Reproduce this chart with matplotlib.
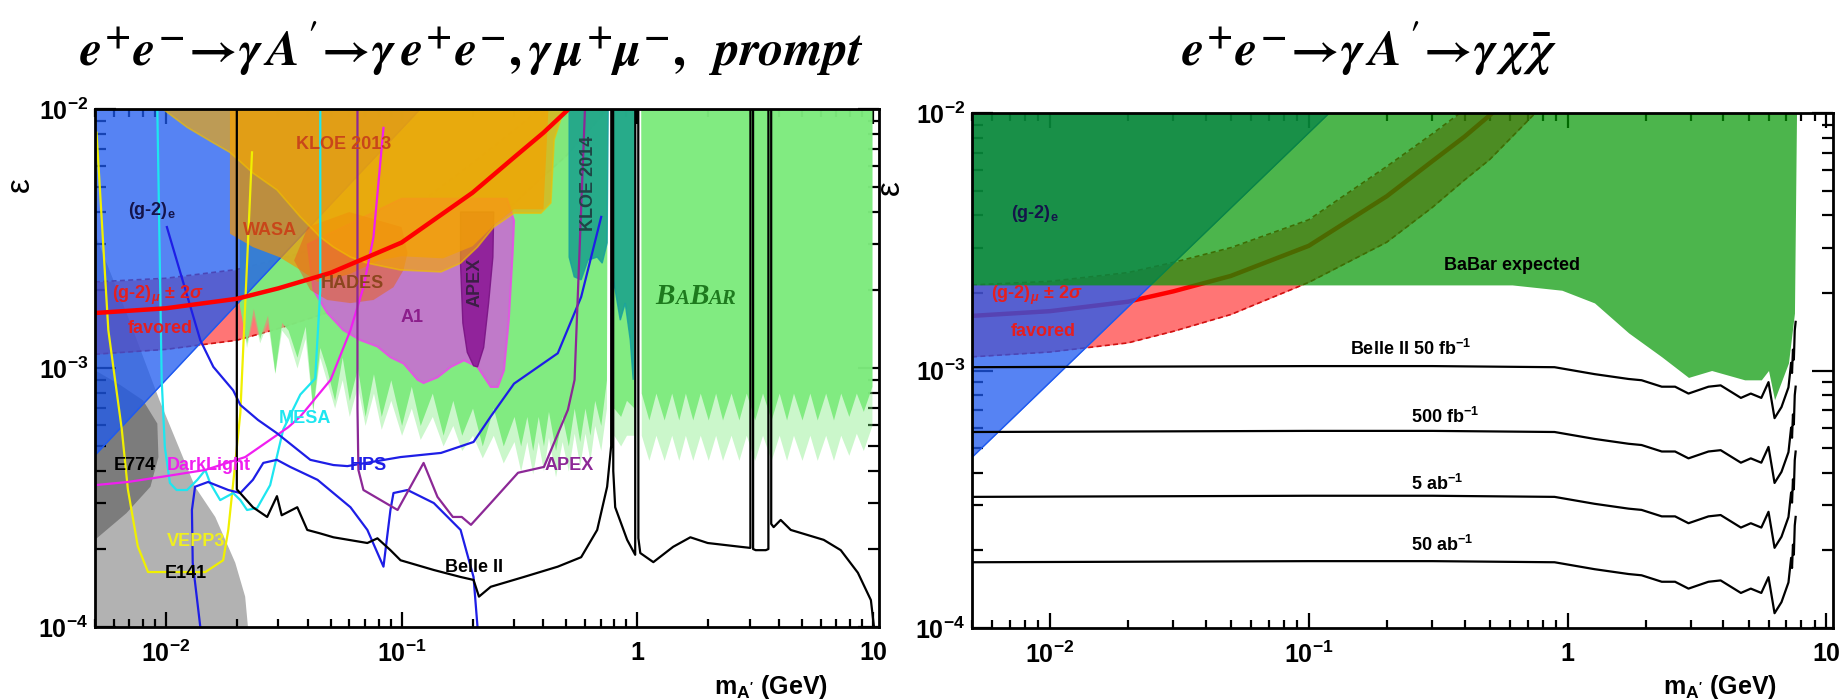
import numpy as np
import matplotlib
matplotlib.use("Agg")
import matplotlib.pyplot as plt
from matplotlib.ticker import LogLocator, NullFormatter
from matplotlib.offsetbox import TextArea, HPacker, AnnotationBbox

plt.rcParams['font.family'] = ['Liberation Sans', 'DejaVu Sans']
plt.rcParams['font.weight'] = 'bold'
plt.rcParams['mathtext.fontset'] = 'custom'
plt.rcParams['mathtext.rm'] = 'Liberation Sans:bold'
plt.rcParams['mathtext.bf'] = 'Liberation Sans:bold'
plt.rcParams['mathtext.it'] = 'Liberation Sans:bold:italic'

# ---------------- data: (m_A' [GeV], epsilon) ----------------
# (g-2)_mu favoured band
gm2_m = [0.005, 0.01, 0.02, 0.03, 0.05, 0.1, 0.2, 0.3, 0.4, 0.5, 0.75, 1.0]
gm2_c = [1.63e-3, 1.70e-3, 1.85e-3, 2.03e-3, 2.33e-3, 3.05e-3, 4.75e-3, 6.5e-3, 8.1e-3, 9.8e-3, 1.4e-2, 1.8e-2]
gm2_hi = [2.15e-3, 2.22e-3, 2.40e-3, 2.63e-3, 3.0e-3, 3.85e-3, 6.2e-3, 8.3e-3, 1.03e-2, 1.25e-2, 1.8e-2, 2.3e-2]
gm2_lo = [1.13e-3, 1.18e-3, 1.28e-3, 1.42e-3, 1.65e-3, 2.2e-3, 3.15e-3, 4.3e-3, 5.5e-3, 6.6e-3, 1.0e-2, 1.3e-2]

# (g-2)_e excluded edge
gm2e_m = [0.005, 0.12]
gm2e_eps = [4.6e-4, 1.0e-2]

# beam dumps
e141_pts = [(0.005, 1e-4), (0.005, 3.3e-3), (0.007, 1.53e-3), (0.0094, 7.5e-4), (0.0133, 3.48e-4),
            (0.0162, 2.66e-4), (0.0197, 1.77e-4), (0.0217, 1.31e-4), (0.0223, 1e-4)]
e774_pts = [(0.005, 2.17e-4), (0.0068, 2.75e-4), (0.0086, 3.48e-4), (0.0093, 4.53e-4), (0.0092, 6.1e-4),
            (0.008, 7.5e-4), (0.0064, 8.6e-4), (0.005, 9.8e-4)]

# BaBar (left): lower edge, solid core and faded fringe
babar_m = [0.0205, 0.022, 0.0235, 0.025, 0.027, 0.029, 0.031, 0.033, 0.036, 0.039, 0.042, 0.045, 0.048,
           0.052, 0.056, 0.06, 0.065, 0.07, 0.076, 0.082, 0.09, 0.1, 0.11, 0.12, 0.135, 0.15, 0.165, 0.18,
           0.2, 0.22, 0.245, 0.27,
           0.3, 0.32, 0.34, 0.36, 0.38, 0.4, 0.42, 0.45, 0.48, 0.51, 0.54, 0.57, 0.6, 0.63, 0.66, 0.7, 0.74,
           0.745, 0.79, 0.795, 0.85, 0.9, 0.97, 0.975, 1.035,
           1.04, 1.12, 1.2, 1.3, 1.4, 1.5, 1.6, 1.72, 1.85, 2.0, 2.15, 2.3, 2.5, 2.7, 2.9, 3.15, 3.4, 3.7,
           4.0, 4.3, 4.6, 5.0, 5.4, 5.8, 6.3, 6.8, 7.3, 7.9, 8.5, 9.1, 9.9]
babar_core = [1.75e-3, 1.25e-3, 1.7e-3, 1.3e-3, 1.6e-3, 9.6e-4, 1.5e-3, 1.4e-3, 1.1e-3, 1.45e-3, 6.9e-4,
              1.2e-3, 1.0e-3, 7.5e-4, 1.1e-3, 7.5e-4, 1.0e-3, 6.5e-4, 9.5e-4, 6.5e-4, 9e-4, 6.0e-4, 8.5e-4,
              6e-4, 8e-4, 5.5e-4, 7.5e-4, 5.5e-4, 7e-4, 5.0e-4, 7e-4, 5e-4,
              6.5e-4, 5e-4, 6.5e-4, 4.8e-4, 6.5e-4, 5e-4, 6.8e-4, 4.8e-4, 6.5e-4, 5e-4, 7e-4, 5.2e-4, 7e-4,
              5.5e-4, 7.5e-4, 6e-4, 9e-4,
              1e-2, 1e-2, 7e-4, 6.5e-4, 7.5e-4, 7e-4, 1e-2, 1e-2,
              8e-4, 6.3e-4, 8e-4, 6.3e-4, 8e-4, 6.3e-4, 8e-4, 6.3e-4, 8e-4, 6.3e-4, 8e-4, 6.3e-4, 8e-4, 6.3e-4,
              8e-4, 6.3e-4, 8e-4, 6.3e-4, 8e-4, 6.3e-4, 8e-4, 6.3e-4, 8e-4, 6.3e-4, 8e-4, 6.3e-4, 8e-4,
              6.5e-4, 8e-4, 6.8e-4, 8.5e-4]
babar_fade = [1.75e-3, 1.2e-3, 1.6e-3, 1.25e-3, 1.5e-3, 9.5e-4, 1.4e-3, 1.3e-3, 1.0e-3, 1.3e-3, 6.8e-4,
              1.1e-3, 9e-4, 7e-4, 9e-4, 6.5e-4, 8.5e-4, 6e-4, 8e-4, 5.8e-4, 7.5e-4, 5.5e-4, 7e-4, 5.3e-4,
              6.5e-4, 5e-4, 6e-4, 4.8e-4, 5.5e-4, 4.5e-4, 5.5e-4, 4.3e-4,
              5.2e-4, 4e-4, 5.2e-4, 3.9e-4, 5.2e-4, 4e-4, 5.4e-4, 3.8e-4, 5.2e-4, 4e-4, 5.6e-4, 4.2e-4, 5.6e-4,
              4.4e-4, 6e-4, 4.8e-4, 7e-4,
              1e-2, 1e-2, 5.5e-4, 5e-4, 5.5e-4, 5.5e-4, 1e-2, 1e-2,
              5.5e-4, 4.4e-4, 5.5e-4, 4.4e-4, 5.5e-4, 4.4e-4, 5.5e-4, 4.4e-4, 5.5e-4, 4.4e-4, 5.5e-4, 4.4e-4,
              5.5e-4, 4.4e-4, 5.5e-4, 4.4e-4, 5.5e-4, 4.4e-4, 5.5e-4, 4.4e-4, 5.5e-4, 4.4e-4, 5.5e-4, 4.4e-4,
              5.5e-4, 4.4e-4, 5.5e-4, 4.6e-4, 5.6e-4, 4.8e-4, 6e-4]

kloe13_pts = [(0.0097, 1e-2), (0.0123, 8.5e-3), (0.0159, 7.4e-3), (0.0187, 6.8e-3), (0.0234, 5.66e-3),
              (0.0296, 4.87e-3), (0.0372, 3.83e-3), (0.0452, 3.2e-3), (0.0514, 2.93e-3), (0.0607, 2.68e-3),
              (0.0716, 2.54e-3), (0.099, 2.39e-3), (0.147, 2.35e-3), (0.178, 2.54e-3), (0.21, 2.93e-3),
              (0.246, 3.5e-3), (0.30, 3.96e-3), (0.39, 3.96e-3), (0.43, 4.34e-3), (0.444, 7.6e-3), (0.489, 1e-2)]
wasa_pts = [(0.0187, 1e-2), (0.0187, 3.3e-3), (0.0234, 2.93e-3), (0.0303, 2.68e-3), (0.0372, 2.39e-3),
            (0.044, 2.15e-3), (0.06, 2.3e-3), (0.08, 2.6e-3), (0.1, 2.7e-3), (0.15, 2.65e-3), (0.2, 2.95e-3),
            (0.25, 3.6e-3), (0.3, 4.1e-3), (0.4, 4.1e-3), (0.42, 1e-2)]
hades_pts = [(0.035, 2.6e-3), (0.041, 2.0e-3), (0.0484, 1.83e-3), (0.0607, 1.78e-3), (0.076, 1.83e-3),
             (0.0924, 2.05e-3), (0.102, 2.39e-3), (0.106, 2.78e-3), (0.1, 3.5e-3), (0.06, 4e-3), (0.04, 3.5e-3)]
a1_pts = [(0.04, 3e-3), (0.0423, 2.0e-3), (0.0484, 1.63e-3), (0.0566, 1.40e-3), (0.067, 1.28e-3),
          (0.079, 1.21e-3), (0.0897, 1.10e-3), (0.102, 1.04e-3), (0.117, 9.0e-4), (0.124, 8.75e-4),
          (0.142, 9.2e-4), (0.162, 1.01e-3), (0.184, 1.07e-3), (0.21, 1.01e-3), (0.239, 8.45e-4),
          (0.256, 8.45e-4), (0.272, 9.8e-4), (0.285, 1.53e-3), (0.296, 2.78e-3), (0.30, 3.7e-3),
          (0.28, 4.5e-3), (0.1, 4.5e-3)]
apex_pts = [(0.178, 4e-3), (0.178, 2.5e-3), (0.182, 1.49e-3), (0.19, 1.15e-3), (0.202, 1.02e-3),
            (0.21, 1.01e-3), (0.223, 1.2e-3), (0.234, 1.78e-3), (0.244, 2.68e-3), (0.246, 4e-3)]
kloe14_pts = [(0.514, 1e-2), (0.514, 2.68e-3), (0.54, 2.25e-3), (0.578, 2.19e-3), (0.618, 2.61e-3),
              (0.676, 2.68e-3), (0.71, 2.54e-3), (0.745, 3.04e-3), (0.753, 1e-2), (0.79, 1e-2),
              (0.79, 2.2e-3), (0.806, 2.0e-3), (0.847, 1.53e-3), (0.889, 1.78e-3), (0.934, 1.28e-3),
              (0.961, 9e-4), (0.98, 1e-2)]

# future / projected lines (left)
vepp3_pts = [(0.00508, 8.1e-3), (0.0057, 1.4e-3), (0.0065, 5.8e-4), (0.0069, 3.4e-4), (0.0076, 2.05e-4),
             (0.0084, 1.63e-4), (0.0147, 1.63e-4), (0.0175, 1.81e-4), (0.0184, 2.37e-4), (0.0197, 4.3e-4),
             (0.0207, 6.7e-4), (0.0232, 6.8e-3)]
mesa_pts = [(0.0092, 1e-2), (0.0096, 9e-4), (0.0099, 4.95e-4), (0.0104, 3.6e-4), (0.0111, 3.38e-4),
            (0.0123, 3.38e-4), (0.0136, 3.7e-4), (0.0147, 4.04e-4), (0.0154, 3.6e-4), (0.017, 3.09e-4),
            (0.0193, 3.29e-4), (0.0207, 3.09e-4), (0.0221, 2.83e-4), (0.0244, 2.88e-4), (0.0277, 3.53e-4),
            (0.0315, 5.8e-4), (0.0372, 7.9e-4), (0.043, 9.1e-4), (0.0452, 2e-3), (0.0452, 1e-2)]
darklight_pts = [(0.005, 3.53e-4), (0.0069, 3.63e-4), (0.0096, 3.8e-4), (0.0147, 4.04e-4), (0.0217, 4.53e-4),
                 (0.033, 5.9e-4), (0.0372, 6.5e-4), (0.05, 9.0e-4), (0.0607, 1.4e-3), (0.0689, 2.05e-3),
                 (0.076, 3.2e-3), (0.0838, 8.45e-3)]
hps_upper_pts = [(0.0101, 3.5e-3), (0.014, 1.28e-3), (0.0159, 1.01e-3), (0.0193, 8.2e-4), (0.0207, 7.2e-4),
                 (0.0246, 6.3e-4), (0.0296, 5.6e-4), (0.041, 4.42e-4), (0.0514, 4.22e-4), (0.0589, 4.18e-4),
                 (0.099, 4.53e-4), (0.147, 4.7e-4), (0.202, 5.18e-4), (0.239, 6.5e-4), (0.30, 8.7e-4),
                 (0.46, 1.14e-3), (0.578, 1.88e-3), (0.703, 3.83e-3)]
hps_lower_pts = [(0.014, 1e-4), (0.013, 1.77e-4), (0.0129, 2.83e-4), (0.0133, 3.48e-4), (0.0151, 3.63e-4),
                 (0.0184, 3.38e-4), (0.0207, 3.29e-4), (0.0234, 3.7e-4), (0.0259, 4.3e-4), (0.0296, 4.42e-4),
                 (0.0337, 4.15e-4), (0.044, 3.7e-4), (0.0607, 2.9e-4), (0.0716, 2.37e-4), (0.0838, 1.71e-4),
                 (0.0897, 2.83e-4), (0.0924, 3.29e-4), (0.106, 3.38e-4), (0.137, 3.01e-4), (0.178, 2.37e-4),
                 (0.202, 1.56e-4), (0.21, 1e-4)]
apex_fut_pts = [(0.065, 1e-2), (0.065, 7e-4), (0.0656, 4.04e-4), (0.0689, 3.38e-4), (0.0962, 2.83e-4),
                (0.124, 4.3e-4), (0.142, 3.18e-4), (0.165, 2.66e-4), (0.18, 2.66e-4), (0.197, 2.48e-4),
                (0.239, 3.01e-4), (0.312, 3.94e-4), (0.402, 4.15e-4), (0.508, 6.9e-4), (0.542, 9e-4),
                (0.6, 1e-2)]
belle2_pts = [(0.02, 1e-2), (0.02, 3.4e-4), (0.0234, 2.9e-4), (0.0269, 2.66e-4), (0.0296, 3.2e-4),
              (0.031, 2.7e-4), (0.0361, 2.9e-4), (0.0398, 2.37e-4), (0.045, 2.3e-4), (0.0514, 2.22e-4),
              (0.0716, 2.11e-4), (0.079, 2.2e-4), (0.0897, 1.98e-4), (0.099, 1.81e-4), (0.137, 1.66e-4),
              (0.178, 1.56e-4), (0.202, 1.52e-4), (0.213, 1.31e-4), (0.239, 1.43e-4), (0.33, 1.56e-4),
              (0.46, 1.71e-4), (0.578, 1.86e-4), (0.676, 2.37e-4), (0.745, 3.48e-4), (0.775, 5e-4),
              (0.776, 1e-2), (0.79, 1e-2), (0.791, 4e-4), (0.806, 2.9e-4), (0.906, 2.17e-4), (0.98, 1.9e-4),
              (0.981, 1e-2), (1.01, 1e-2), (1.011, 2.2e-4), (1.03, 1.93e-4), (1.17, 1.78e-4), (1.42, 2.04e-4),
              (1.68, 2.22e-4), (1.99, 2.11e-4), (2.74, 2.04e-4), (3.02, 2.02e-4), (3.021, 1e-2), (3.1, 1e-2),
              (3.101, 2.0e-4), (3.18, 1.98e-4), (3.51, 1.98e-4), (3.6, 2.0e-4), (3.601, 1e-2), (3.7, 1e-2),
              (3.701, 2.5e-4), (3.79, 2.43e-4), (4.06, 2.59e-4), (4.48, 2.37e-4), (6.18, 2.17e-4),
              (7.3, 1.98e-4), (8.63, 1.62e-4), (9.8, 1.27e-4), (10.1, 1.0e-4)]

# right panel: BaBar expected lower edge and Belle II projections
bbexp_m = [0.005, 0.16, 0.61, 0.95, 1.27, 1.72, 2.31, 2.93, 3.6, 4.83, 5.6, 5.97, 6.3, 7.13, 7.52, 7.66]
bbexp_lo = [2.15e-3, 2.15e-3, 2.15e-3, 2.05e-3, 1.83e-3, 1.40e-3, 1.13e-3, 9.4e-4, 1.0e-3, 9.2e-4,
            9.2e-4, 1.0e-3, 7.7e-4, 1.07e-3, 1.67e-3, 1e-2]
belle_shape_m = [0.005, 0.1, 0.3, 0.89, 1.27, 1.72, 1.93, 2.31, 2.6, 2.93, 3.5, 3.9, 4.67, 5.1, 5.6, 5.97,
                 6.3, 6.7, 7.13, 7.3, 7.36, 7.42, 7.48, 7.54, 7.6]
belle_shape = [1.0, 1.01, 1.01, 1.0, 0.94, 0.90, 0.89, 0.84, 0.84, 0.79, 0.84, 0.85, 0.76, 0.79, 0.76,
               0.875, 0.634, 0.70, 0.835, 1.04, 0.95, 1.17, 1.07, 1.39, 1.5]
belle_levels = [1.03e-3, 5.77e-4, 3.23e-4, 1.80e-4]
belle_labels = [r'Belle II 50 fb$^{-1}$', r'500 fb$^{-1}$', r'5 ab$^{-1}$', r'50 ab$^{-1}$']
belle_label_pos = [(0.144, 1.21e-3), (0.248, 6.6e-4), (0.248, 3.62e-4), (0.248, 2.1e-4)]

XLIM = (0.005, 10.6)
YLIM = (1e-4, 1e-2)

BLUE = (30/255, 90/255, 240/255)
GREEN_LIGHT = (125/255, 235/255, 125/255)


def poly(ax, pts, **kw):
    a = np.array(pts)
    ax.fill(a[:, 0], a[:, 1], **kw)


def line(ax, pts, **kw):
    a = np.array(pts)
    ax.plot(a[:, 0], a[:, 1], **kw)


def style_axes(ax):
    ax.set_xscale('log')
    ax.set_yscale('log')
    ax.set_xlim(*XLIM)
    ax.set_ylim(*YLIM)
    ax.set_xticks([0.01, 0.1, 1, 10])
    ax.set_xticklabels([r'$10^{-2}$', r'$10^{-1}$', '1', '10'])
    ax.set_yticks([1e-4, 1e-3, 1e-2])
    ax.set_yticklabels([r'$10^{-4}$', r'$10^{-3}$', r'$10^{-2}$'])
    ax.xaxis.set_minor_locator(LogLocator(base=10, subs=range(2, 10), numticks=20))
    ax.yaxis.set_minor_locator(LogLocator(base=10, subs=range(2, 10), numticks=20))
    ax.xaxis.set_minor_formatter(NullFormatter())
    ax.yaxis.set_minor_formatter(NullFormatter())
    ax.tick_params(which='both', direction='in', top=True, right=True, width=1.6, labelsize=18)
    ax.tick_params(axis='x', which='major', length=11, pad=10)
    ax.tick_params(axis='x', which='minor', length=6)
    ax.tick_params(axis='y', which='major', length=15, pad=5)
    ax.tick_params(axis='y', which='minor', length=8)
    for s in ax.spines.values():
        s.set_linewidth(2)
        s.set_zorder(30)
    ax.text(0.935, -0.115, r"m$_{\mathrm{A'}}$ (GeV)", transform=ax.transAxes, ha='right', va='center',
            fontsize=18)
    ax.text(-0.095, 0.855, 'ε', transform=ax.transAxes, ha='center', va='center', fontsize=24,
            rotation=90, fontweight='normal')


fig = plt.figure(figsize=(18.43, 6.99), dpi=100)
axL = fig.add_axes([0.0515, 0.1030, 0.4254, 0.7411])
axR = fig.add_axes([0.5274, 0.1016, 0.4672, 0.7367])

# ---------------- left panel ----------------
ax = axL
poly(ax, e141_pts, color='k', alpha=0.3, lw=0, zorder=1)
poly(ax, e774_pts, color='k', alpha=0.3, lw=0, zorder=1)
ax.fill_between(gm2_m, gm2_lo, gm2_hi, color='#ff1a1a', alpha=0.6, lw=0, zorder=2)
ax.plot(gm2_m, gm2_lo, color='#d01010', ls=(0, (3, 2)), lw=1.2, zorder=2)
ax.plot(gm2_m, gm2_hi, color='#d01010', ls=(0, (3, 2)), lw=1.2, zorder=2)
ax.fill_between(babar_m, babar_fade, 1e-2, color=GREEN_LIGHT, alpha=0.4, lw=0, zorder=3)
ax.fill_between(babar_m, babar_core, 1e-2, color=GREEN_LIGHT, alpha=0.95, lw=0, zorder=3)
ax.fill_between(gm2e_m, gm2e_eps, 1e-2, color=BLUE, alpha=0.75, lw=0, zorder=4)
ax.plot(gm2e_m, gm2e_eps, color='#1e5af0', lw=1, zorder=4)
poly(ax, a1_pts, facecolor='#c86ed2', edgecolor='#e650e6', lw=1.5, alpha=0.9, zorder=5)
poly(ax, apex_pts, facecolor='#8c1a96', edgecolor='#7a1484', lw=1, alpha=0.9, zorder=6)
poly(ax, wasa_pts, facecolor='#f59600', edgecolor='none', alpha=0.7, zorder=7)
poly(ax, hades_pts, facecolor='#e8641e', edgecolor='none', alpha=0.55, zorder=7)
poly(ax, kloe13_pts, facecolor='#f5a800', edgecolor='#f0c000', lw=1.2, alpha=0.65, zorder=8)
poly(ax, kloe14_pts, facecolor='#17a08c', edgecolor='#17a0a0', lw=1, alpha=0.85, zorder=9)

line(ax, vepp3_pts, color='#f0f000', lw=1.6, zorder=12)
line(ax, mesa_pts, color='#1ee6f0', lw=1.6, zorder=12)
line(ax, darklight_pts, color='#f01ef0', lw=1.6, zorder=12)
line(ax, hps_upper_pts, color='#1e1ee6', lw=1.6, zorder=12)
line(ax, hps_lower_pts, color='#1e1ee6', lw=1.6, zorder=12)
line(ax, apex_fut_pts, color='#8c2896', lw=1.6, zorder=12)
line(ax, belle2_pts, color='k', lw=1.6, zorder=13)
ax.plot(gm2_m, gm2_c, color='#ff0000', lw=3.2, zorder=14)

lab = dict(fontsize=13, ha='center', va='center', zorder=20)
ax.text(0.0566, 7.3e-3, 'KLOE 2013', color='#c8461a', **lab)
ax.text(0.0277, 3.38e-3, 'WASA', color='#c8461a', **lab)
ax.text(0.0618, 2.11e-3, 'HADES', color='#8c461e', **lab)
ax.text(0.111, 1.57e-3, 'A1', color='#8c1e8c', **lab)
ax.text(0.205, 2.15e-3, 'APEX', color='#3c1e46', rotation=90, **lab)
ax.text(0.618, 5.18e-3, 'KLOE 2014', color='#1e4646', rotation=90, **lab)
ax.text(0.0069, 4.07e-3, r'(g-2)$_{\mathrm{e}}$', color='#14144a', fontsize=13, ha='left', va='center', zorder=20)
ax.text(0.00589, 1.91e-3, r'(g-2)$_{\mu}$ ± 2$\sigma$', color='#e61e1e', fontsize=13, ha='left', va='center', zorder=20)
ax.text(0.0069, 1.42e-3, 'favored', color='#e61e1e', fontsize=13, ha='left', va='center', zorder=20)
ax.text(0.00738, 4.22e-4, 'E774', color='k', **lab)
ax.text(0.0152, 4.22e-4, 'DarkLight', color='#f01ef0', **lab)
ax.text(0.039, 6.4e-4, 'MESA', color='#1ee6f0', **lab)
ax.text(0.0724, 4.22e-4, 'HPS', color='#1e1ee6', **lab)
ax.text(0.0134, 2.13e-4, 'VEPP3', color='#f0f01e', **lab)
ax.text(0.0122, 1.61e-4, 'E141', color='k', **lab)
ax.text(0.202, 1.69e-4, 'Belle II', color='k', **lab)
ax.text(0.514, 4.22e-4, 'APEX', color='#8c2896', **lab)

serif = dict(family='Liberation Serif', style='italic', weight='bold', color='#1e7a1e')
parts = [TextArea('B', textprops=dict(fontsize=21, **serif)),
         TextArea('A', textprops=dict(fontsize=15, **serif)),
         TextArea('B', textprops=dict(fontsize=21, **serif)),
         TextArea('AR', textprops=dict(fontsize=15, **serif))]
box = HPacker(children=parts, align='baseline', pad=0, sep=0)
ab = AnnotationBbox(box, (1.77, 1.88e-3), xycoords='data', frameon=False, box_alignment=(0.5, 0.5))
ab.set_zorder(20)
ax.add_artist(ab)
style_axes(ax)

# ---------------- right panel ----------------
ax = axR
ax.fill_between(gm2_m, gm2_lo, gm2_hi, color='#ff1a1a', alpha=0.6, lw=0, zorder=2)
ax.plot(gm2_m, gm2_lo, color='#d01010', ls=(0, (3, 2)), lw=1.2, zorder=2)
ax.plot(gm2_m, gm2_hi, color='#d01010', ls=(0, (3, 2)), lw=1.2, zorder=2)
ax.plot(gm2_m, gm2_c, color='#ff0000', lw=3.2, zorder=3)
ax.fill_between(gm2e_m, gm2e_eps, 1e-2, color=BLUE, alpha=0.75, lw=0, zorder=4)
ax.plot(gm2e_m, gm2e_eps, color='#1e5af0', lw=1, zorder=4)
ax.fill_between(bbexp_m, bbexp_lo, 1e-2, color=(0, 150/255, 0), alpha=0.7, lw=0, zorder=5)

shape_m = np.array(belle_shape_m)
for lev in belle_levels:
    ax.plot(shape_m, lev * np.array(belle_shape), color='k', lw=1.6, zorder=10)
for txt, (xm, ye) in zip(belle_labels, belle_label_pos):
    ax.text(xm, ye, txt, fontsize=13, ha='left', va='center', zorder=20)

ax.text(0.608, 2.55e-3, 'BaBar expected', fontsize=13, ha='center', va='center', zorder=20)
ax.text(0.00706, 4.09e-3, r'(g-2)$_{\mathrm{e}}$', color='#14144a', fontsize=13, ha='left', va='center', zorder=20)
ax.text(0.00592, 1.96e-3, r'(g-2)$_{\mu}$ ± 2$\sigma$', color='#e61e1e', fontsize=13, ha='left', va='center', zorder=20)
ax.text(0.00706, 1.42e-3, 'favored', color='#e61e1e', fontsize=13, ha='left', va='center', zorder=20)
style_axes(ax)

# ---------------- titles ----------------
fig.text(0.256, 0.93,
         r"$e^{+}e^{-}\!\rightarrow\!\gamma\,A\,'\!\rightarrow\!\gamma\,e^{+}e^{-},\gamma\,\mu^{+}\mu^{-},\;\;prompt$",
         math_fontfamily='stix', fontsize=36, ha='center', va='center', fontweight='normal')
fig.text(0.743, 0.93,
         r"$e^{+}e^{-}\!\rightarrow\!\gamma\,A\,'\!\rightarrow\!\gamma\,\chi\,\bar{\chi}$",
         math_fontfamily='stix', fontsize=36, ha='center', va='center', fontweight='normal')

fig.savefig('out.png', dpi=100)
